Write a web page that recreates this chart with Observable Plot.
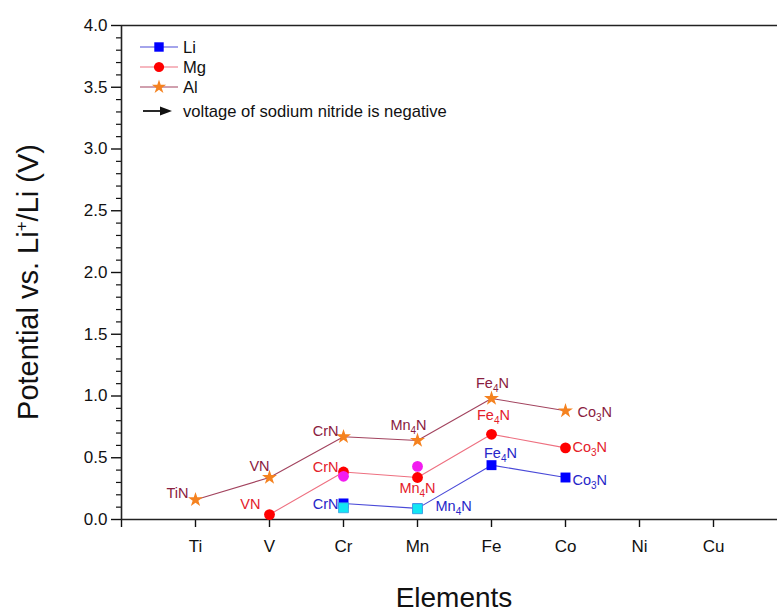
<!DOCTYPE html>
<html><head><meta charset="utf-8">
<script src="https://cdn.jsdelivr.net/npm/d3@7"></script>
<script src="https://cdn.jsdelivr.net/npm/@observablehq/plot@0.6"></script>
<style>body{margin:0;background:#fff;overflow:hidden} svg{display:block}</style>
</head><body><div id="chart"></div>
<script>
// ---- data ----
const elements = ["Ti","V","Cr","Mn","Fe","Co","Ni","Cu"];
const yMajorTicks = [0,0.5,1,1.5,2,2.5,3,3.5,4];

const liElements = ["Cr","Mn","Fe","Co"];
const liValues   = [0.13,0.09,0.44,0.34];
const liLabels   = ["CrN","Mn4N","Fe4N","Co3N"];
const liAltElements = ["Cr","Mn"];
const liAltValues   = [0.095,0.087];

const mgElements = ["V","Cr","Mn","Fe","Co"];
const mgValues   = [0.04,0.385,0.34,0.69,0.58];
const mgLabels   = ["VN","CrN","Mn4N","Fe4N","Co3N"];
const mgAltElements = ["Cr","Mn"];
const mgAltValues   = [0.35,0.43];

const alElements = ["Ti","V","Cr","Mn","Fe","Co"];
const alValues   = [0.16,0.34,0.67,0.64,0.98,0.88];
const alLabels   = ["TiN","VN","CrN","Mn4N","Fe4N","Co3N"];

const seriesNames = ["Li","Mg","Al"];
const noteText = "voltage of sodium nitride is negative";

// ---- layout / style (not data) ----
const labelLayout = {
  Al: [["end",-7,-6],["middle",-10,-11],["end",-5,-5],["middle",-9,-15],["middle",1,-15],["start",12,2]],
  Mg: [["end",-9,-10],["end",-5,-5],["middle",0,11],["middle",2,-19],["start",7,-1]],
  Li: [["end",-5,1],["start",18,-2],["middle",9,-12],["start",7,3]]
};
const style = {
  Li: {line:"#4a4ad8", label:"#2626c8", marker:"#0000ff", symbol:"square", r:5.6},
  Mg: {line:"#ee7080", label:"#e4202a", marker:"#ff0000", symbol:"circle", r:5.4},
  Al: {line:"#a2435e", label:"#8a2040", marker:"#f5821f", symbol:"star", r:4.7}
};
const FONT = "'Liberation Sans', Arial, Helvetica, sans-serif";

const xOf = e => elements.indexOf(e) + 1;
const tbl = (els, vals, labs) => els.map((e,i)=>({x:xOf(e), y:vals[i], label: labs ? labs[i] : null}));
const data = {
  Li: tbl(liElements, liValues, liLabels),
  Mg: tbl(mgElements, mgValues, mgLabels),
  Al: tbl(alElements, alValues, alLabels)
};
const liAlt = tbl(liAltElements, liAltValues);
const mgAlt = tbl(mgAltElements, mgAltValues);

const minorTicks = d3.range(0, 41).map(i=>i/10).filter(v => Math.abs(v*2 - Math.round(v*2)) > 1e-9);

const W = 777, H = 613, ML = 121, MR = 0, MT = 25, MB = 94;
const xMax = (W - ML) / 74;

const marks = [
  Plot.ruleY([4], {stroke:"#222", strokeWidth:1.6}),
  Plot.axisY(minorTicks, {anchor:"left", tickSize:5, tickFormat:()=>"", strokeWidth:1.2, label:null}),
  Plot.axisY(yMajorTicks, {anchor:"left", tickSize:10, tickPadding:4, tickFormat:d3.format(".1f"), fontSize:17, strokeWidth:1.4, label:null}),
  Plot.axisX(d3.range(0,9), {anchor:"bottom", tickSize:8, tickPadding:12, fontSize:17, strokeWidth:1.4, label:null,
    tickFormat: d => d === 0 ? "" : elements[d-1]}),
  Plot.ruleX([0], {stroke:"#222", strokeWidth:1.6}),
  Plot.ruleY([0], {stroke:"#222", strokeWidth:1.6})
];
for (const s of seriesNames) {
  marks.push(Plot.line(data[s], {x:"x", y:"y", stroke:style[s].line, strokeWidth:1.1}));
}
for (const s of seriesNames) {
  marks.push(Plot.dot(data[s], {x:"x", y:"y", symbol:style[s].symbol, r:style[s].r, fill:style[s].marker, stroke:"none"}));
}
marks.push(Plot.dot(liAlt, {x:"x", y:"y", symbol:"square", r:5.6, fill:"#12e6f4", stroke:"#3aa0e0", strokeWidth:0.8}));
marks.push(Plot.dot(mgAlt, {x:"x", y:"y", symbol:"circle", r:5.4, fill:"#f21cf0", stroke:"none"}));
for (const s of seriesNames) {
  data[s].forEach((d,i) => {
    const [anchor, dx, dy] = labelLayout[s][i];
    marks.push(Plot.text([d], {x:"x", y:"y", text:"label", textAnchor:anchor, dx, dy, fill:style[s].label, fontSize:14.5}));
  });
}

const svg = Plot.plot({
  width:W, height:H, marginLeft:ML, marginRight:MR, marginTop:MT, marginBottom:MB,
  style:{fontFamily:FONT, background:"#fff", color:"#111", overflow:"visible"},
  x:{type:"linear", domain:[0, xMax], axis:null},
  y:{type:"linear", domain:[0,4], axis:null},
  marks
});

const root = d3.select(svg);
// subscripts in compound labels
root.selectAll("text").each(function(){
  const t = this.textContent;
  const m = /^([A-Z][a-z]?)(\d)(N)$/.exec(t);
  if (!m || this.querySelector("tspan")) return;
  const sel = d3.select(this);
  sel.text(null);
  sel.append("tspan").text(m[1]);
  sel.append("tspan").attr("dy", 4).attr("font-size", 10).text(m[2]);
  sel.append("tspan").attr("dy", -4).text(m[3]);
});

// axis titles
const yl = root.append("text")
  .attr("transform", "translate(38,282) rotate(-90)")
  .attr("text-anchor","middle").attr("font-size",29).attr("fill","#111").attr("font-family",FONT);
yl.append("tspan").text("Potential vs. Li");
yl.append("tspan").attr("dy",-11).attr("font-size",17).text("+");
yl.append("tspan").attr("dy",11).text("/Li (V)");
root.append("text").attr("x",454).attr("y",607).attr("text-anchor","middle")
  .attr("font-size",28).attr("fill","#111").attr("font-family",FONT).text("Elements");

// legend
const lg = root.append("g").attr("font-family",FONT).attr("font-size",16.6).attr("fill","#111").attr("text-anchor","start");
const symOf = s => style[s].symbol==="square" ? d3.symbolSquare : style[s].symbol==="circle" ? d3.symbolCircle : d3.symbolStar;
seriesNames.forEach((s,i) => {
  const cy = 47 + i*20;
  lg.append("line").attr("x1",140).attr("x2",178).attr("y1",cy).attr("y2",cy)
    .attr("stroke",style[s].line).attr("stroke-width",1.1);
  lg.append("path").attr("transform",`translate(159,${cy})`)
    .attr("d", d3.symbol(symOf(s), Math.PI*style[s].r*style[s].r*0.9)())
    .attr("fill",style[s].marker);
  lg.append("text").attr("x",183).attr("y",cy).attr("dy","0.35em").attr("text-anchor","start").text(s);
});
lg.append("line").attr("x1",143).attr("x2",162).attr("y1",111).attr("y2",111).attr("stroke","#111").attr("stroke-width",1.8);
lg.append("path").attr("d","M160,106.5 L172,111 L160,115.5 Z").attr("fill","#111");
lg.append("text").attr("x",183).attr("y",111).attr("dy","0.35em").attr("text-anchor","start").text(noteText);

document.getElementById("chart").appendChild(svg);
</script>
</body></html>
